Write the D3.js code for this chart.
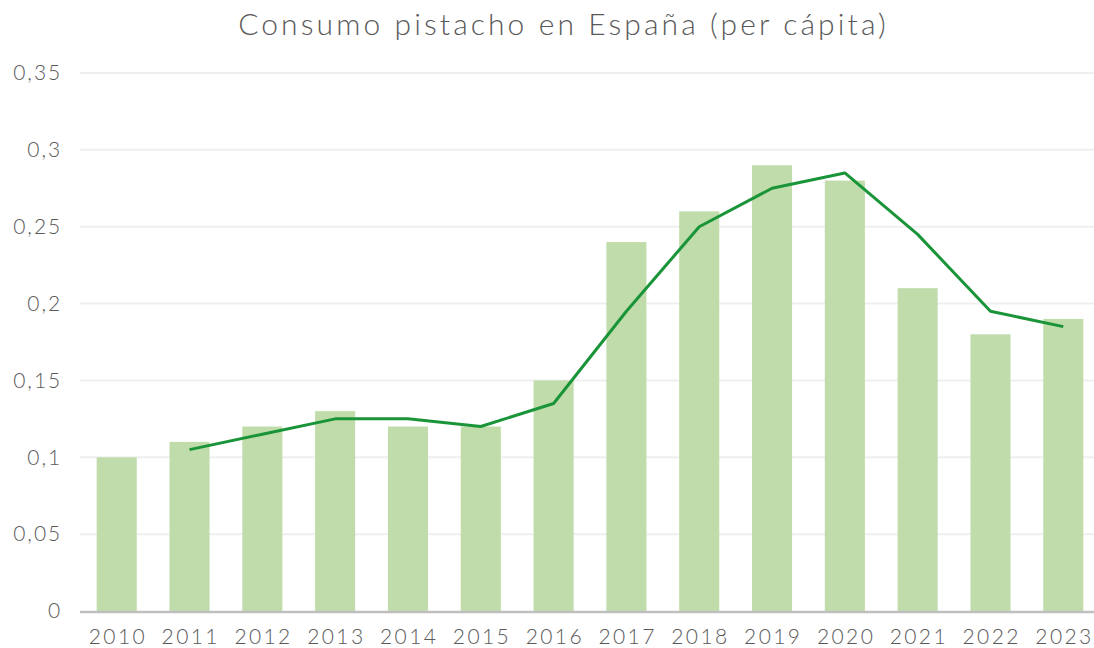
<!DOCTYPE html>
<html><head><meta charset="utf-8">
<script src="https://cdn.jsdelivr.net/npm/d3@7"></script>
<style>
body{margin:0;background:#fff;}
svg text{font-family:"Lato",sans-serif;font-weight:300;fill:#595959;}
</style></head>
<body><svg id="c" width="1094" height="648"></svg>
<script>
const years = ["2010","2011","2012","2013","2014","2015","2016","2017","2018","2019","2020","2021","2022","2023"];
const consumo = [0.10,0.11,0.12,0.13,0.12,0.12,0.15,0.24,0.26,0.29,0.28,0.21,0.18,0.19];
const mediaMovil = [null,0.105,0.115,0.125,0.125,0.12,0.135,0.195,0.25,0.275,0.285,0.245,0.195,0.185];
const yTicks = [0,0.05,0.1,0.15,0.2,0.25,0.3,0.35];
const title = "Consumo pistacho en España (per cápita)";

const svg = d3.select("#c");
const mLeft = 80.3, mRight = 1099.7, mTop = 73, mBottom = 611;
const x = d3.scaleBand().domain(years).range([mLeft,mRight]).paddingInner(0.45).paddingOuter(0.225);
const y = d3.scaleLinear().domain([0,0.35]).range([mBottom,mTop]);
const fmt = v => String(+v.toFixed(2)).replace(".", ",");

// gridlines
svg.append("g").selectAll("line").data(yTicks.filter(d=>d>0)).join("line")
  .attr("x1",80).attr("x2",1094).attr("y1",d=>y(d)).attr("y2",d=>y(d))
  .attr("stroke","#efefef").attr("stroke-width",2);

// y axis labels
const ya = svg.append("g").attr("transform",`translate(${mLeft},0)`)
  .call(d3.axisLeft(y).tickValues(yTicks).tickFormat(fmt).tickSize(0).tickPadding(18));
ya.select(".domain").remove();
ya.selectAll("text").attr("font-size",21).attr("font-family","Lato").attr("font-weight",300).attr("fill","#595959").style("letter-spacing","2px");

// bars
svg.append("g").selectAll("rect").data(years).join("rect")
  .attr("x",d=>x(d)).attr("width",x.bandwidth())
  .attr("y",(d,i)=>y(consumo[i])).attr("height",(d,i)=>y(0)-y(consumo[i]))
  .attr("fill","#bfdcaa");

// x axis line
svg.append("line").attr("x1",80).attr("x2",1094).attr("y1",y(0)+1).attr("y2",y(0)+1)
  .attr("stroke","#bfbfbf").attr("stroke-width",2.5);

const xa = svg.append("g").attr("transform",`translate(1.2,${mBottom})`)
  .call(d3.axisBottom(x).tickSize(0).tickPadding(18));
xa.select(".domain").remove();
xa.selectAll("text").attr("font-size",21).attr("font-family","Lato").attr("font-weight",300).attr("fill","#595959").style("letter-spacing","2.4px");

// line
const line = d3.line().defined(d=>d.v!=null).x(d=>x(d.k)+x.bandwidth()/2).y(d=>y(d.v));
svg.append("path").datum(years.map((k,i)=>({k,v:mediaMovil[i]})))
  .attr("d",line).attr("fill","none").attr("stroke","#1a9438").attr("stroke-width",3).attr("stroke-linejoin","round");

// title
svg.append("text").attr("x",563.5).attr("y",35).attr("text-anchor","middle")
  .attr("font-size",30).style("letter-spacing","3.1px").text(title);
</script></body></html>
